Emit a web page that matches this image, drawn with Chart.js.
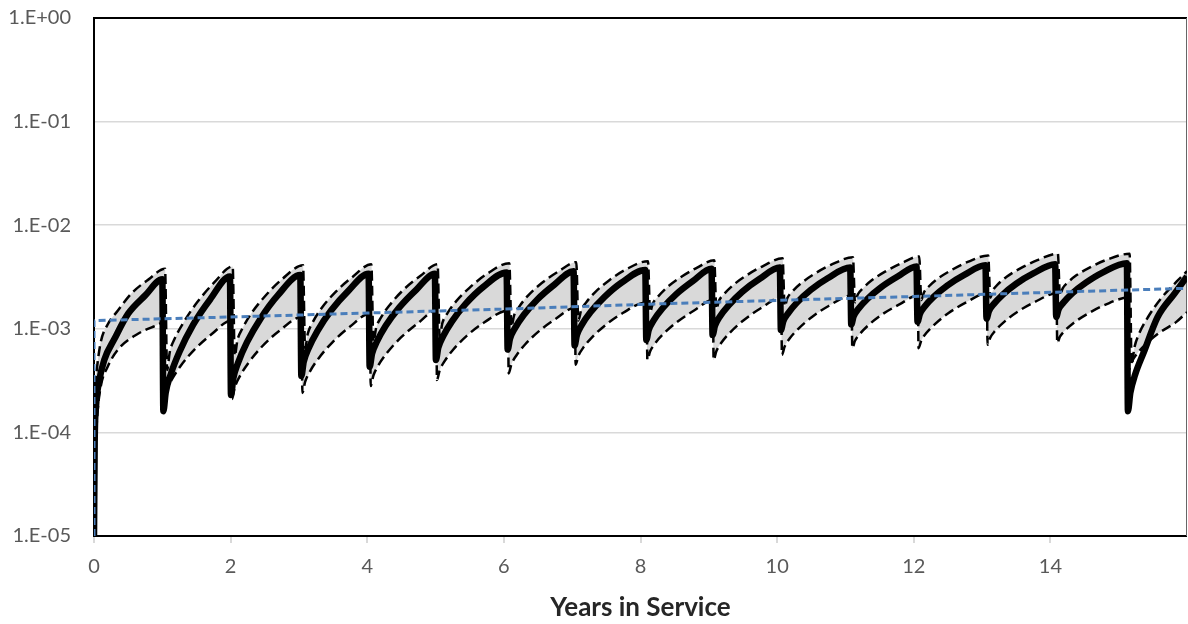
<!DOCTYPE html>
<html><head><meta charset="utf-8">
<script src="https://cdn.jsdelivr.net/npm/chart.js@4.4.1/dist/chart.umd.min.js"></script>
<style>html,body{margin:0;padding:0;background:#fff;}#wrap{width:1188px;height:624px;}</style>
</head><body><div id="wrap"><canvas id="c" width="1188" height="624"></canvas></div>
<script>
// ---- axis ticks ----
const xTickValues = [0, 2, 4, 6, 8, 10, 12, 14];
const xTickLabels = ['0', '2', '4', '6', '8', '10', '12', '14'];
const yTickValues = [1e-5, 1e-4, 1e-3, 1e-2, 1e-1, 1];
const yTickLabels = ['1.E-05', '1.E-04', '1.E-03', '1.E-02', '1.E-01', '1.E+00'];

// ---- years at which the solid curve drops (each year of service) ----
const dropYears = [1.00, 1.99, 3.02, 4.02, 4.99, 6.04, 7.02, 8.07, 9.04, 10.04, 11.07, 12.04, 13.05, 14.07, 15.12];

// ---- solid (thick black) curve ----
const solidStartYears  = [0, 0.01, 0.03, 0.07, 0.15, 0.30, 0.50, 0.75];
const solidStartValues = [1e-5, 8e-5, 1.8e-4, 3.0e-4, 5.0e-4, 8.0e-4, 1.4e-3, 2.1e-3];
const solidPeaks = [3.0e-3, 3.2e-3, 3.3e-3, 3.4e-3, 3.4e-3, 3.5e-3, 3.6e-3, 3.7e-3, 3.8e-3, 3.9e-3, 3.9e-3, 4.0e-3, 4.1e-3, 4.2e-3, 4.3e-3];
const solidOffsets = [0.015, 0.05, 0.12, 0.25, 0.45, 0.70];
const solidTeeth = [
  [1.6e-4, 2.43e-4, 3.59e-4, 5.97e-4, 1.09e-3, 1.92e-3],
  [2.3e-4, 3.34e-4, 4.72e-4, 7.43e-4, 1.26e-3, 2.10e-3],
  [3.5e-4, 4.81e-4, 6.46e-4, 9.51e-4, 1.50e-3, 2.31e-3],
  [4.3e-4, 5.74e-4, 7.50e-4, 1.07e-3, 1.61e-3, 2.39e-3],
  [5.0e-4, 6.56e-4, 8.45e-4, 1.18e-3, 1.74e-3, 2.51e-3],
  [6.3e-4, 8.04e-4, 1.01e-3, 1.36e-3, 1.92e-3, 2.67e-3],
  [6.9e-4, 8.73e-4, 1.09e-3, 1.45e-3, 2.02e-3, 2.78e-3],
  [7.8e-4, 9.73e-4, 1.20e-3, 1.57e-3, 2.15e-3, 2.90e-3],
  [8.7e-4, 1.07e-3, 1.31e-3, 1.68e-3, 2.28e-3, 3.02e-3],
  [9.7e-4, 1.18e-3, 1.41e-3, 1.79e-3, 2.37e-3, 3.08e-3],
  [1.10e-3, 1.32e-3, 1.56e-3, 1.94e-3, 2.51e-3, 3.21e-3],
  [1.17e-3, 1.39e-3, 1.64e-3, 2.03e-3, 2.61e-3, 3.31e-3],
  [1.25e-3, 1.48e-3, 1.73e-3, 2.13e-3, 2.72e-3, 3.42e-3],
  [1.30e-3, 1.54e-3, 1.79e-3, 2.20e-3, 2.79e-3, 3.51e-3],
  [1.6e-4, 2.4e-4, 3.6e-4, 6.0e-4, 1.3e-3, 2.2e-3]
];
const solidEnd = [16, 3.2e-3];

// ---- upper dashed bound ----
const upperStartYears  = [0, 0.01, 0.04, 0.10, 0.20, 0.35, 0.55, 0.80];
const upperStartValues = [1e-5, 1.5e-4, 4.0e-4, 7.5e-4, 1.1e-3, 1.5e-3, 2.2e-3, 3.0e-3];
const upperPeakShift = 0.04;
const upperPeaks = [3.8e-3, 4.0e-3, 4.1e-3, 4.2e-3, 4.2e-3, 4.3e-3, 4.4e-3, 4.5e-3, 4.6e-3, 4.8e-3, 4.9e-3, 5.0e-3, 5.1e-3, 5.3e-3, 5.3e-3];
const upperOffsets = [0.07, 0.11, 0.18, 0.31, 0.51, 0.76];
const upperTeeth = [
  [4.0e-4, 6.0e-4, 8.0e-4, 1.15e-3, 1.80e-3, 2.80e-3],
  [5.5e-4, 7.8e-4, 1.00e-3, 1.40e-3, 2.05e-3, 3.00e-3],
  [6.5e-4, 9.0e-4, 1.15e-3, 1.58e-3, 2.25e-3, 3.15e-3],
  [7.5e-4, 1.02e-3, 1.28e-3, 1.70e-3, 2.38e-3, 3.25e-3],
  [8.5e-4, 1.14e-3, 1.40e-3, 1.84e-3, 2.50e-3, 3.38e-3],
  [1.05e-3, 1.35e-3, 1.62e-3, 2.08e-3, 2.75e-3, 3.58e-3],
  [1.20e-3, 1.50e-3, 1.78e-3, 2.24e-3, 2.90e-3, 3.72e-3],
  [1.45e-3, 1.75e-3, 2.02e-3, 2.48e-3, 3.12e-3, 3.90e-3],
  [1.55e-3, 1.87e-3, 2.15e-3, 2.62e-3, 3.27e-3, 4.06e-3],
  [1.65e-3, 1.98e-3, 2.28e-3, 2.75e-3, 3.40e-3, 4.18e-3],
  [1.80e-3, 2.14e-3, 2.44e-3, 2.92e-3, 3.56e-3, 4.32e-3],
  [1.90e-3, 2.25e-3, 2.56e-3, 3.04e-3, 3.68e-3, 4.45e-3],
  [2.00e-3, 2.36e-3, 2.68e-3, 3.18e-3, 3.83e-3, 4.60e-3],
  [2.10e-3, 2.46e-3, 2.78e-3, 3.28e-3, 3.92e-3, 4.66e-3],
  [4.5e-4, 6.6e-4, 9.0e-4, 1.30e-3, 2.00e-3, 3.00e-3]
];
const upperEnd = [16, 3.6e-3];

// ---- lower dashed bound ----
const lowerStartYears  = [0, 0.02, 0.05, 0.10, 0.20, 0.35, 0.65, 0.90];
const lowerStartValues = [1e-5, 6e-5, 1.5e-4, 2.8e-4, 4.3e-4, 6.3e-4, 9.0e-4, 1.07e-3];
const lowerPeakShift = 0.02;
const lowerPeaks = [1.15e-3, 1.2e-3, 1.3e-3, 1.4e-3, 1.5e-3, 1.5e-3, 1.6e-3, 1.8e-3, 1.9e-3, 2.0e-3, 2.1e-3, 2.1e-3, 2.2e-3, 2.2e-3, 2.0e-3];
const lowerOffsets = [0.03, 0.07, 0.14, 0.27, 0.47, 0.72];
const lowerTeeth = [
  [2.0e-4, 2.57e-4, 3.24e-4, 4.40e-4, 6.29e-4, 8.85e-4],
  [2.1e-4, 2.71e-4, 3.44e-4, 4.68e-4, 6.75e-4, 9.53e-4],
  [2.4e-4, 3.07e-4, 3.86e-4, 5.21e-4, 7.41e-4, 1.04e-3],
  [2.8e-4, 3.54e-4, 4.41e-4, 5.86e-4, 8.20e-4, 1.13e-3],
  [3.2e-4, 3.97e-4, 4.85e-4, 6.31e-4, 8.59e-4, 1.15e-3],
  [3.7e-4, 4.54e-4, 5.50e-4, 7.05e-4, 9.44e-4, 1.25e-3],
  [4.5e-4, 5.46e-4, 6.55e-4, 8.28e-4, 1.09e-3, 1.42e-3],
  [5.0e-4, 6.03e-4, 7.18e-4, 8.99e-4, 1.17e-3, 1.51e-3],
  [5.0e-4, 6.07e-4, 7.28e-4, 9.20e-4, 1.21e-3, 1.58e-3],
  [5.6e-4, 6.73e-4, 8.00e-4, 1.00e-3, 1.30e-3, 1.67e-3],
  [6.5e-4, 7.66e-4, 8.91e-4, 1.09e-3, 1.38e-3, 1.72e-3],
  [6.5e-4, 7.71e-4, 9.04e-4, 1.11e-3, 1.42e-3, 1.79e-3],
  [7.0e-4, 8.22e-4, 9.53e-4, 1.16e-3, 1.46e-3, 1.81e-3],
  [7.3e-4, 8.39e-4, 9.57e-4, 1.14e-3, 1.39e-3, 1.69e-3],
  [4.0e-4, 4.79e-4, 5.66e-4, 7.05e-4, 9.12e-4, 1.16e-3]
];
const lowerEnd = [16, 1.45e-3];

// ---- blue dashed trend ----
const blueYears  = [0, 0, 2, 4, 6, 8, 10, 12, 14, 16];
const blueValues = [1e-5, 1.2e-3, 1.30e-3, 1.42e-3, 1.55e-3, 1.72e-3, 1.88e-3, 2.05e-3, 2.25e-3, 2.46e-3];

function buildSeries(startYears, startValues, shift, peaks, offsets, teeth, end) {
  const pts = startYears.map((x, i) => ({x: x, y: startValues[i]}));
  dropYears.forEach((d, k) => {
    pts.push({x: d + shift, y: peaks[k]});
    offsets.forEach((o, i) => pts.push({x: d + o, y: teeth[k][i]}));
  });
  pts.push({x: end[0], y: end[1]});
  return pts;
}

const FONT = 'Lato, "Open Sans", sans-serif';
const frame = {
  id: 'frame',
  beforeDatasetsDraw(chart) {
    const {ctx, chartArea: a} = chart;
    ctx.save();
    ctx.strokeStyle = '#000';
    ctx.lineWidth = 2;
    ctx.beginPath();
    ctx.moveTo(a.right, a.top); ctx.lineTo(a.left, a.top);
    ctx.lineTo(a.left, a.bottom); ctx.lineTo(a.right, a.bottom);
    ctx.stroke();
    ctx.strokeStyle = '#666';
    ctx.lineWidth = 1;
    ctx.beginPath();
    ctx.moveTo(a.right - 0.5, a.top); ctx.lineTo(a.right - 0.5, a.bottom);
    ctx.stroke();
    ctx.restore();
  }
};

new Chart(document.getElementById('c'), {
  type: 'line',
  data: {
    datasets: [
      {data: blueYears.map((x, i) => ({x: x, y: blueValues[i]})), borderColor: '#4a7ebb', borderWidth: 3, borderDash: [7, 4], fill: false},
      {data: buildSeries(solidStartYears, solidStartValues, 0, solidPeaks, solidOffsets, solidTeeth, solidEnd), borderColor: '#000', borderWidth: 6.5, fill: false, cubicInterpolationMode: 'monotone'},
      {data: buildSeries(upperStartYears, upperStartValues, upperPeakShift, upperPeaks, upperOffsets, upperTeeth, upperEnd), borderColor: '#000', borderWidth: 2.5, borderDash: [10, 5], fill: '+1', backgroundColor: '#d9d9d9', cubicInterpolationMode: 'monotone'},
      {data: buildSeries(lowerStartYears, lowerStartValues, lowerPeakShift, lowerPeaks, lowerOffsets, lowerTeeth, lowerEnd), borderColor: '#000', borderWidth: 2.5, borderDash: [10, 5], fill: false, cubicInterpolationMode: 'monotone'}
    ]
  },
  options: {
    responsive: false,
    animation: false,
    devicePixelRatio: 1,
    layout: {padding: {left: 0, right: 1, top: 18, bottom: 0}},
    elements: {point: {radius: 0}, line: {tension: 0}},
    plugins: {legend: {display: false}, tooltip: {enabled: false}, filler: {drawTime: 'beforeDatasetsDraw'}},
    scales: {
      x: {
        type: 'linear', min: 0, max: 16,
        afterBuildTicks: s => { s.ticks = xTickValues.map(v => ({value: v})); },
        ticks: {callback: v => xTickLabels[xTickValues.indexOf(v)], color: '#595959', font: {family: FONT, size: 20}, padding: 12, maxRotation: 0, autoSkip: false},
        grid: {drawOnChartArea: false, color: '#d9d9d9', lineWidth: 2, tickLength: 7},
        border: {display: false},
        title: {display: true, text: 'Years in Service', color: '#262626', font: {family: FONT, size: 26, weight: 'bold'}, padding: {top: 0, bottom: 1}},
        afterFit: s => { s.height = 88; }
      },
      y: {
        type: 'logarithmic', min: 1e-5, max: 1,
        afterBuildTicks: s => { s.ticks = yTickValues.map(v => ({value: v})); },
        ticks: {callback: v => yTickLabels[yTickValues.indexOf(v)], color: '#595959', font: {family: FONT, size: 20}, padding: 0, autoSkip: false},
        grid: {color: '#d9d9d9', lineWidth: 1.5, drawTicks: true, tickLength: 23, tickColor: 'rgba(0,0,0,0)'},
        border: {display: false},
        afterFit: s => { s.width = 94; }
      }
    }
  },
  plugins: [frame]
});
</script>
</body></html>
